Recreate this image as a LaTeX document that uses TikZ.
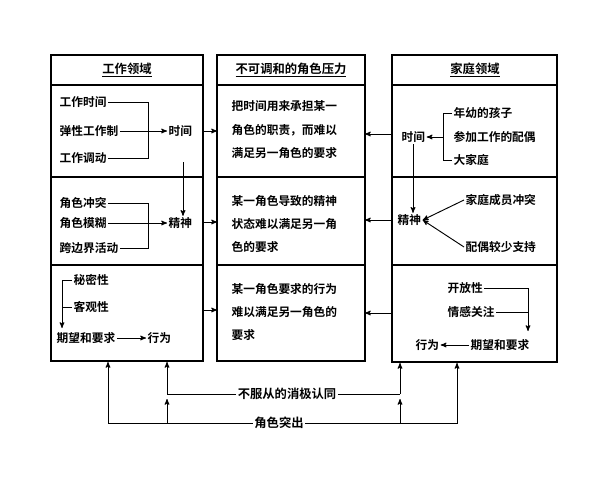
\documentclass[tikz,border=0pt]{standalone}
\usepackage{fontspec}
\setmainfont{Noto Sans CJK SC}[BoldFont={Noto Sans CJK SC Bold}]
\usetikzlibrary{arrows,positioning}

\begin{document}
\begin{tikzpicture}[x=0.03cm,y=-0.03cm,>=stealth',line width=0.8pt,
                    txt/.style={anchor=west,inner sep=1pt,font=\fontsize{10}{12}\selectfont\bfseries},
                    ttl/.style={inner sep=1pt,font=\fontsize{10.5}{12}\selectfont\bfseries},
                    frame/.style={draw,line width=1pt}]
  \useasboundingbox (0,0) rectangle (600,480);

  % three columns
  \draw[frame] (51,55) rectangle (203,361);
  \draw[frame] (217,55) rectangle (365,361);
  \draw[frame] (392,55) rectangle (557,362);
  \foreach \y in {85,177,265} {
    \draw[frame] (51,\y) -- (203,\y);
    \draw[frame] (217,\y) -- (365,\y);
    \draw[frame] (392,\y) -- (557,\y);
  }
  \node[ttl] (wt) at (127,70) {\underline{工作领域}};
  \node[ttl] (mt) at (291,70) {\underline{不可调和的角色压力}};
  \node[ttl] (ft) at (475,70) {\underline{家庭领域}};

  % work domain
  \node[txt] (w1) at (58,102) {工作时间};
  \node[txt] (w2) at (58,131) {弹性工作制};
  \node[txt] (w3) at (58,158) {工作调动};
  \node[txt] (wtime) at (167,131) {时间};
  \coordinate (wb1) at (148,102);
  \coordinate (wb3) at (148,158);
  \draw (w1.east) -- (wb1) -- (wb3) -- (w3.east);
  \draw[->] (w2.east) -- (wtime.west);

  \node[txt] (w4) at (58,203) {角色冲突};
  \node[txt] (w5) at (58,223) {角色模糊};
  \node[txt] (w6) at (58,248) {跨边界活动};
  \node[txt] (wmind) at (167,223) {精神};
  \coordinate (wb4) at (148,203);
  \coordinate (wb6) at (148,248);
  \draw (w4.east) -- (wb4) -- (wb6) -- (w6.east);
  \draw[->] (w5.east) -- (wmind.west);
  \draw[->] (183,162) -- (wmind.north -| 183,0);

  \node[txt] (w7) at (72,280) {秘密性};
  \node[txt] (w8) at (72,307) {客观性};
  \node[txt] (w9) at (55,338) {期望和要求};
  \node[txt] (wact) at (146,338) {行为};
  \draw[->] (w7.west) -- (62,280) -- (62,328);
  \draw (w8.west) -- (62,307);
  \draw[->] (w9.east) -- (wact.west);

  % stress column
  \node[txt,align=left] (m1) at (230,130) {把时间用来承担某一\\[8pt]角色的职责，而难以\\[8pt]满足另一角色的要求};
  \node[txt,align=left] (m2) at (230,224) {某一角色导致的精神\\[8pt]状态难以满足另一角\\[8pt]色的要求};
  \node[txt,align=left] (m3) at (230,312) {某一角色要求的行为\\[8pt]难以满足另一角色的\\[8pt]要求};

  % family domain
  \node[txt] (ftime) at (400,137) {时间};
  \node[txt] (f1) at (452,113) {年幼的孩子};
  \node[txt] (f2) at (452,137) {参加工作的配偶};
  \node[txt] (f3) at (452,160) {大家庭};
  \draw (f1.west) -- (443,113) -- (443,160) -- (f3.west);
  \draw[->] (443,137) -- (ftime.east);

  \node[txt] (fmind) at (396,220) {精神};
  \node[txt] (f4) at (464,200) {家庭成员冲突};
  \node[txt] (f5) at (464,247) {配偶较少支持};
  \draw[->] (f4.west) -- (fmind.east);
  \draw[->] (f5.west) -- (fmind.east);
  \draw[->] (ftime.south -| 413,0) -- (fmind.north -| 413,0);

  \node[txt] (f6) at (446,288) {开放性};
  \node[txt] (f7) at (446,312) {情感关注};
  \node[txt] (f8) at (469,345) {期望和要求};
  \node[txt] (fact) at (414,345) {行为};
  \draw[->] (f6.east) -- (528,288) -- (528,331);
  \draw (f7.east) -- (528,312);
  \draw[->] (f8.west) -- (fact.east);

  % cross arrows
  \foreach \y in {131,222,310} \draw[->] (203,\y) -- (217,\y);
  \foreach \y in {134,220,313} \draw[->] (392,\y) -- (365,\y);

  % bottom
  \node[ttl] (neg) at (287,394) {不服从的消极认同};
  \node[ttl] (sal) at (279,423) {角色突出};
  \draw[->] (sal.west) -- (108,423) -- (108,362);
  \draw[->] (167,423) -- (167,399);
  \draw[->] (167,394) -- (167,362);
  \draw (neg.west) -- (167,394);
  \draw[->] (sal.east) -- (457,423) -- (457,363);
  \draw[->] (400,423) -- (400,399);
  \draw[->] (400,394) -- (400,363);
  \draw (neg.east) -- (400,394);
\end{tikzpicture}
\end{document}
